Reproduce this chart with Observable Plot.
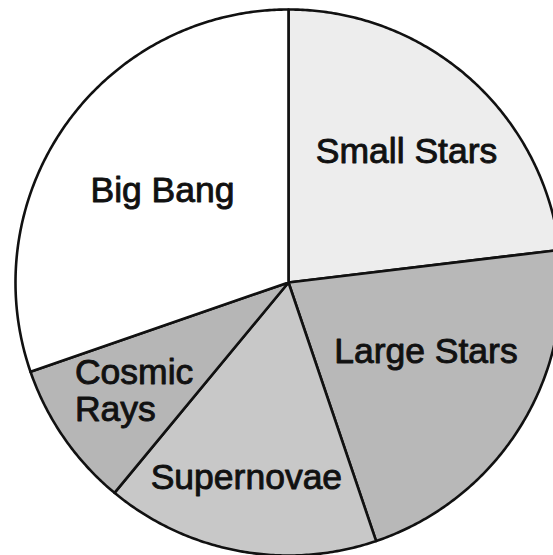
<!DOCTYPE html>
<html>
<head>
<meta charset="utf-8">
<script src="https://cdn.jsdelivr.net/npm/d3@7"></script>
<script src="https://cdn.jsdelivr.net/npm/@observablehq/plot@0.6"></script>
<style>
  html, body { margin: 0; padding: 0; background: #fff; overflow: hidden; }
  #chart { width: 553px; height: 555px; }
</style>
</head>
<body>
<div id="chart"></div>
<script>
// ---- data (percent of total) ----
const categories = ["Small Stars", "Large Stars", "Supernovae", "Cosmic Rays", "Big Bang"];
const values = [23.1, 21.7, 16.2, 8.7, 30.3];
const labels = ["Small Stars", "Large Stars", "Supernovae", "Cosmic\nRays", "Big Bang"];

// ---- styling / layout ----
const colors = ["#ededed", "#b8b8b8", "#c8c8c8", "#b6b6b6", "#ffffff"];
const labelRadius = [0.616, 0.583, 0.771, 0.932, 0.547]; // fraction of radius (baseline point)
const labelNudge = [3.0, -1.9, 1.1, 1.8, -3.0];            // degrees from slice mid-angle
const labelAnchor = ["middle", "middle", "middle", "start", "middle"];

const W = 553, H = 555;
const cx = 288, cy = 282, R = 273;

// pie angles, clockwise from the top, in radians
const arcs = d3.pie().sort(null).value((d, i) => values[i])(categories);

// slice outlines: centre + arc points (sampled from the data angles)
const slicePts = [];
arcs.forEach((a, i) => {
  const cat = categories[i];
  slicePts.push({cat, x: 0, y: 0});
  const n = Math.max(2, Math.ceil((a.endAngle - a.startAngle) / (Math.PI / 360)));
  for (let k = 0; k <= n; k++) {
    const t = a.startAngle + (a.endAngle - a.startAngle) * k / n;
    slicePts.push({cat, x: Math.sin(t), y: Math.cos(t)});
  }
});

const labelData = arcs.map((a, i) => {
  const mid = (a.startAngle + a.endAngle) / 2 + labelNudge[i] * Math.PI / 180;
  return {text: labels[i], x: labelRadius[i] * Math.sin(mid), y: labelRadius[i] * Math.cos(mid), anchor: labelAnchor[i]};
});

const textOpts = {
  x: "x", y: "y", text: "text",
  fontSize: 35.5, lineAnchor: "bottom", lineHeight: 1.04,
  fill: "#111", stroke: "#111", strokeWidth: 0.9,
  fontFamily: "'Liberation Sans', Arial, Helvetica, sans-serif"
};

const chart = Plot.plot({
  width: W, height: H,
  margin: 0,
  x: {domain: [-cx / R, (W - cx) / R], range: [0, W], axis: null},
  y: {domain: [-(H - cy) / R, cy / R], range: [H, 0], axis: null},
  color: {domain: categories, range: colors},
  style: {fontFamily: "'Liberation Sans', Arial, sans-serif", background: "white"},
  marks: [
    Plot.line(slicePts, {
      x: "x", y: "y", z: "cat", fill: "cat",
      stroke: "#111", strokeWidth: 2.6, strokeLinejoin: "round",
      curve: "linear-closed"
    }),
    Plot.text(labelData.filter(d => d.anchor === "middle"), {...textOpts, textAnchor: "middle"}),
    Plot.text(labelData.filter(d => d.anchor === "start"), {...textOpts, textAnchor: "start"})
  ]
});
document.getElementById("chart").appendChild(chart);
</script>
</body>
</html>
